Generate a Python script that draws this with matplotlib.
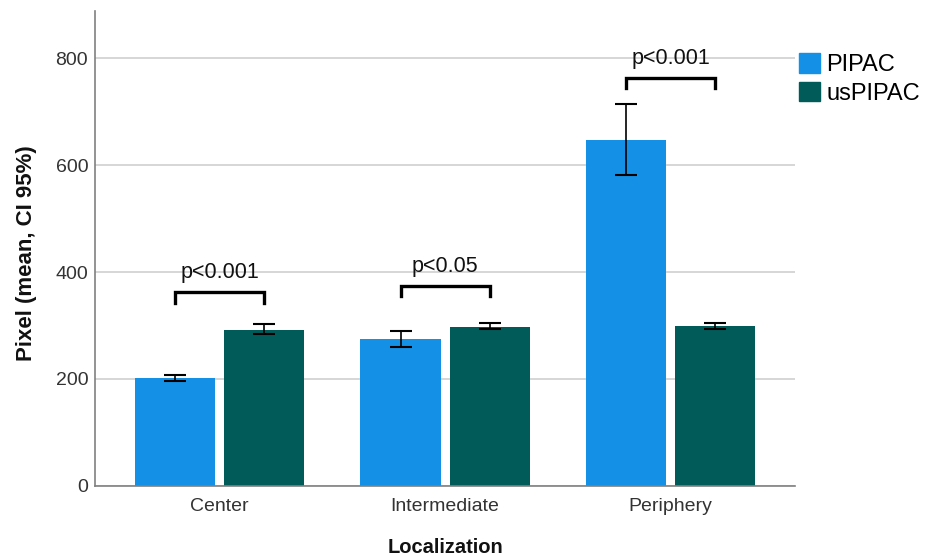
import matplotlib.pyplot as plt
import numpy as np
from matplotlib.patches import Patch

plt.rcParams['font.family'] = ['Liberation Sans', 'DejaVu Sans']

# Data (mean with 95% CI)
categories = ['Center', 'Intermediate', 'Periphery']
pipac_mean = [201, 274, 647]
pipac_lo = [196, 259, 581]
pipac_hi = [208, 289, 714]
uspipac_mean = [292, 298, 299]
uspipac_lo = [284, 294, 294]
uspipac_hi = [302, 305, 304]
p_labels = ['p<0.001', 'p<0.05', 'p<0.001']
bracket_y = [362, 374, 763]

c_pipac = '#1490E6'
c_uspipac = '#005B59'

fig = plt.figure(figsize=(9.33, 5.56), dpi=100)
ax = fig.add_axes([0.102, 0.126, 0.750, 0.855])

x = np.arange(len(categories))
off = 0.198
w = 0.355

err_p = [np.array(pipac_mean) - np.array(pipac_lo), np.array(pipac_hi) - np.array(pipac_mean)]
err_u = [np.array(uspipac_mean) - np.array(uspipac_lo), np.array(uspipac_hi) - np.array(uspipac_mean)]

ax.bar(x - off, pipac_mean, w, color=c_pipac, zorder=2)
ax.bar(x + off, uspipac_mean, w, color=c_uspipac, zorder=2)
ax.errorbar(x - off, pipac_mean, yerr=err_p, fmt='none', ecolor='black',
            elinewidth=1.2, capsize=8, capthick=1.5, zorder=3)
ax.errorbar(x + off, uspipac_mean, yerr=err_u, fmt='none', ecolor='black',
            elinewidth=1.2, capsize=8, capthick=1.5, zorder=3)

# significance brackets
for i, (lab, by) in enumerate(zip(p_labels, bracket_y)):
    ax.plot([i - off, i - off, i + off, i + off], [by - 19, by, by, by - 19],
            color='black', lw=2.4, solid_joinstyle='miter', zorder=4)
    ax.text(i, by + 26, lab, ha='center', va='baseline', fontsize=15.5,
            color='#111111', zorder=4)

ax.set_xlim(-0.552, 2.551)
ax.set_ylim(0, 889)
ax.set_yticks([0, 200, 400, 600, 800])
ax.set_xticks(x)
ax.set_xticklabels(categories)
ax.yaxis.grid(True, color='#cfcfcf', lw=1.2, zorder=0)
ax.set_axisbelow(True)
ax.tick_params(axis='both', length=0, labelsize=14, colors='#333333')
ax.tick_params(axis='x', pad=9)
ax.tick_params(axis='y', pad=5)
for s in ['top', 'right']:
    ax.spines[s].set_visible(False)
for s in ['left', 'bottom']:
    ax.spines[s].set_color('#808080')
    ax.spines[s].set_linewidth(1.2)

ax.set_ylabel('Pixel (mean, CI 95%)', fontsize=16, fontweight='bold', color='#111111')
ax.yaxis.set_label_coords(-0.083, 0.49)
ax.set_xlabel('Localization', fontsize=14.5, fontweight='bold', color='#111111')
ax.xaxis.set_label_coords(0.5, -0.11)

handles = [Patch(color=c_pipac, label='PIPAC'), Patch(color=c_uspipac, label='usPIPAC')]
fig.legend(handles=handles, loc='upper left', bbox_to_anchor=(799 / 933, 1 - 53 / 556),
           frameon=False, fontsize=17, handlelength=0.9, handleheight=0.9,
           handletextpad=0.25, labelspacing=0.25, borderpad=0, borderaxespad=0)

fig.savefig('out.png', dpi=100)
